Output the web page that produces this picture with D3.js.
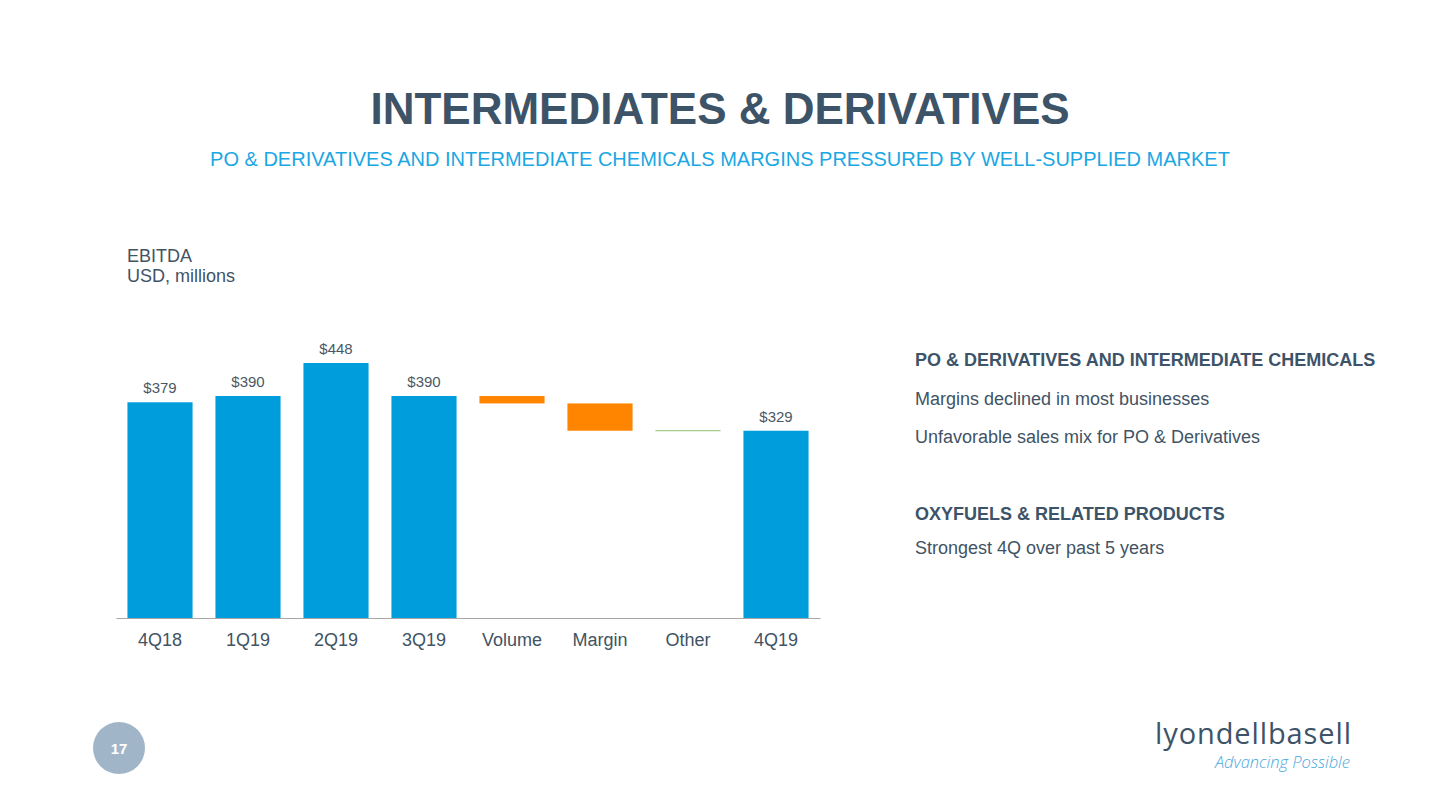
<!DOCTYPE html>
<html>
<head>
<meta charset="utf-8">
<script src="https://cdn.jsdelivr.net/npm/d3@7"></script>
<style>
  html, body { margin: 0; padding: 0; background: #ffffff; }
  svg { display: block; font-family: "Liberation Sans", Arial, sans-serif; }
</style>
</head>
<body>
<svg id="chart" width="1440" height="810"></svg>
<script>
// ---- data ----
const categories = ["4Q18", "1Q19", "2Q19", "3Q19", "Volume", "Margin", "Other", "4Q19"];
const barTypes   = ["total", "total", "total", "total", "delta", "delta", "delta", "total"];
const values     = [379, 390, 448, 390, -13, -48, 0, 329];
const valueLabels = ["$379", "$390", "$448", "$390", "", "", "", "$329"];

const titleText = "INTERMEDIATES & DERIVATIVES";
const subtitleText = "PO & DERIVATIVES AND INTERMEDIATE CHEMICALS MARGINS PRESSURED BY WELL-SUPPLIED MARKET";
const unitLines = ["EBITDA", "USD, millions"];
const sideNotes = [
  { text: "PO & DERIVATIVES AND INTERMEDIATE CHEMICALS", bold: true },
  { text: "Margins declined in most businesses", bold: false },
  { text: "Unfavorable sales mix for PO & Derivatives", bold: false },
  { text: "OXYFUELS & RELATED PRODUCTS", bold: true },
  { text: "Strongest 4Q over past 5 years", bold: false }
];
const pageNumber = "17";

// ---- build waterfall ----
let running = 0;
const bars = categories.map((c, i) => {
  let y0, y1;
  if (barTypes[i] === "total") { y0 = 0; y1 = values[i]; running = values[i]; }
  else { y0 = running; y1 = running + values[i]; running = y1; }
  return { cat: c, type: barTypes[i], v: values[i], lo: Math.min(y0, y1), hi: Math.max(y0, y1), label: valueLabels[i] };
});

const svg = d3.select("#chart");
const COL_DARK = "#3d5368";
const COL_TEXT = "#415364";
const COL_BLUE = "#009ddc";
const COL_ORANGE = "#ff8500";
const COL_GREEN = "#8dc26f";

// title
svg.append("text").attr("x", 720).attr("y", 124).attr("text-anchor", "middle")
  .attr("font-size", 44).attr("font-weight", "bold").attr("fill", COL_DARK).text(titleText);
svg.append("text").attr("x", 720).attr("y", 166).attr("text-anchor", "middle")
  .attr("font-size", 20).attr("fill", "#1aa7e3").text(subtitleText);

// unit label
svg.append("text").attr("x", 127).attr("y", 262).attr("font-size", 18).attr("fill", COL_TEXT)
  .selectAll("tspan").data(unitLines).join("tspan")
  .attr("x", 127).attr("dy", (d, i) => i === 0 ? 0 : 20).text(d => d);

// scales
const baseY = 618;
const x = d3.scaleBand().domain(categories).range([116, 820]).paddingInner(0.26).paddingOuter(0.13);
const y = d3.scaleLinear().domain([0, 448]).range([baseY, 363]);

const g = svg.append("g");
g.selectAll("rect.bar").data(bars).join("rect")
  .attr("class", "bar")
  .attr("x", d => x(d.cat))
  .attr("width", x.bandwidth())
  .attr("y", d => y(d.hi))
  .attr("height", d => Math.max(y(d.lo) - y(d.hi), 0))
  .attr("fill", d => d.type === "total" ? COL_BLUE : (d.v < 0 ? COL_ORANGE : COL_GREEN));

// zero-change deltas drawn as a thin line
g.selectAll("line.zero").data(bars.filter(d => d.type === "delta" && d.v === 0)).join("line")
  .attr("class", "zero")
  .attr("x1", d => x(d.cat)).attr("x2", d => x(d.cat) + x.bandwidth())
  .attr("y1", d => y(d.hi)).attr("y2", d => y(d.hi))
  .attr("stroke", COL_GREEN).attr("stroke-width", 1);

// value labels
g.selectAll("text.val").data(bars.filter(d => d.label)).join("text")
  .attr("class", "val")
  .attr("x", d => x(d.cat) + x.bandwidth() / 2)
  .attr("y", d => y(d.hi) - 9)
  .attr("text-anchor", "middle").attr("font-size", 15).attr("fill", "#4a5866")
  .text(d => d.label);

// x axis
const axis = svg.append("g").attr("transform", `translate(0,${baseY})`)
  .call(d3.axisBottom(x).tickSize(0).tickPadding(15));
axis.select(".domain").attr("stroke", "#a6a6a6").attr("stroke-width", 1.2);
axis.selectAll("text").attr("font-size", 18).attr("fill", COL_TEXT)
  .attr("font-family", "Liberation Sans, Arial, sans-serif");

// side notes
const noteY = [366, 405, 443, 520, 554];
svg.append("g").selectAll("text").data(sideNotes).join("text")
  .attr("x", 915).attr("y", (d, i) => noteY[i])
  .attr("font-size", 18)
  .attr("font-weight", d => d.bold ? "bold" : "normal")
  .attr("fill", d => d.bold ? COL_DARK : COL_TEXT)
  .text(d => d.text);

// page number
svg.append("circle").attr("cx", 119).attr("cy", 748).attr("r", 26).attr("fill", "#a0b6c8");
svg.append("text").attr("x", 119).attr("y", 754).attr("text-anchor", "middle")
  .attr("font-size", 15).attr("font-weight", "bold").attr("fill", "#ffffff").text(pageNumber);

// logo
svg.append("text").attr("x", 1155).attr("y", 744)
  .attr("font-family", "Open Sans, Noto Sans, sans-serif").attr("font-weight", 400)
  .attr("font-size", 29).attr("fill", COL_DARK)
  .attr("textLength", 196).attr("lengthAdjust", "spacing").text("lyondellbasell");
svg.append("text").attr("x", 1350).attr("y", 768).attr("text-anchor", "end")
  .attr("font-family", "Open Sans, Noto Sans, sans-serif").attr("font-style", "italic").attr("font-weight", 300)
  .attr("font-size", 16.5).attr("fill", "#4aa8e0").text("Advancing Possible");
</script>
</body>
</html>
